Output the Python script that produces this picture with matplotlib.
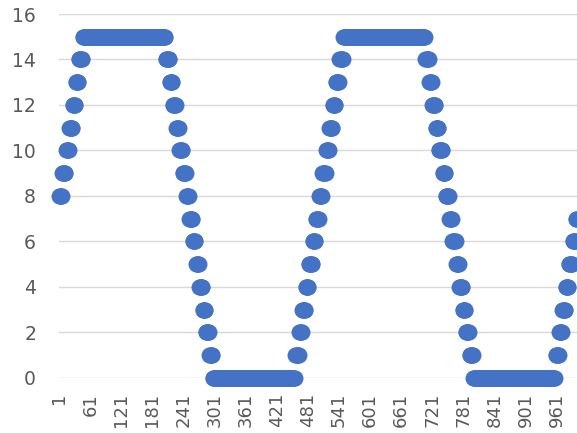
import numpy as np
import matplotlib
matplotlib.use('Agg')
import matplotlib.pyplot as plt

# step levels and how many consecutive points sit on each level
levels = [8, 9, 10, 11, 12, 13, 14,
          15,
          14, 13, 12, 11, 10, 9, 8, 7, 6, 5, 4, 3, 2, 1,
          0,
          1, 2, 3, 4, 5, 6, 7, 8, 9, 10, 11, 12, 13, 14,
          15,
          14, 13, 12, 11, 10, 9, 8, 7, 6, 5, 4, 3, 2, 1,
          0,
          1, 2, 3, 4, 5, 6, 7]
runs = [6, 7, 6, 7, 6, 6, 7,
        161,
        7, 6, 7, 6, 6, 7, 6, 7, 6, 6, 7, 6, 7, 6,
        160,
        7, 6, 7, 6, 7, 6, 7, 6, 7, 6, 7, 6, 7, 7,
        159,
        7, 6, 7, 6, 7, 6, 7, 6, 7, 6, 7, 6, 7, 7,
        159,
        7, 6, 7, 6, 7, 6, 3]

y_ticks = [0, 2, 4, 6, 8, 10, 12, 14, 16]
x_tick_labels = [1, 61, 121, 181, 241, 301, 361, 421, 481, 541,
                 601, 661, 721, 781, 841, 901, 961]

values = np.repeat(levels, runs)
idx = np.arange(1, len(values) + 1)

W, H = 577, 433
fig = plt.figure(figsize=(W / 100, H / 100), dpi=100)
ax = fig.add_axes([59 / W, (H - 377.7) / H, (W - 59) / W, (377.7 - 14) / H])

ax.plot(idx, values, linestyle='none', marker='o', markersize=11.5,
        color='#4472C4', markeredgewidth=0, clip_on=False, zorder=3)

ax.set_xlim(0.5, len(values) + 0.5)
ax.set_ylim(0, 16)
ax.set_yticks(y_ticks)
ax.set_xticks(x_tick_labels)
ax.set_xticklabels([str(v) for v in x_tick_labels], rotation=90)

ax.grid(axis='y', color='#d9d9d9', linewidth=1.0)
ax.set_axisbelow(True)
for s in ax.spines.values():
    s.set_visible(False)
ax.tick_params(axis='y', length=0, pad=16.5, labelsize=13.5, labelcolor='#595959')
ax.tick_params(axis='x', length=0, pad=11, labelsize=13, labelcolor='#595959')

fig.savefig('out.png', dpi=100)
